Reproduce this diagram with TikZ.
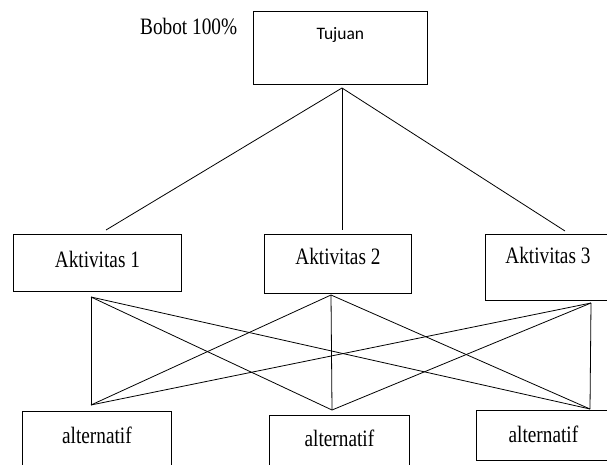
\documentclass[tikz,border=0pt]{standalone}
\usepackage{fontspec}
\setmainfont[FakeStretch=0.82]{Liberation Serif}
\newfontfamily\tujuanfont{Carlito}

\begin{document}
\begin{tikzpicture}
[x=1pt, y=1pt, every node/.style={inner sep=0pt},
 kotak/.style={draw=black, line width=0.8pt, anchor=north west, font=\fontsize{23.5}{28}\selectfont},
 garis/.style={line width=0.8pt, color=black}]
\useasboundingbox (0,0) rectangle (607,-465);
\node (bobot) [anchor=base west, font=\fontsize{23.5}{28}\selectfont] at (140,-35) {Bobot 100\%};
\node (tujuan) [kotak, minimum width=174pt, text height=28pt, text depth=45pt, font=\tujuanfont\fontsize{17.5}{21}\selectfont] at (253,-11) {Tujuan};
\node (akt1) [kotak, minimum width=168pt, text height=33pt, text depth=24pt] at (13,-234) {Aktivitas 1};
\node (akt2) [kotak, minimum width=147pt, text height=30pt, text depth=29pt] at (264,-234) {Aktivitas 2};
\node (akt3) [kotak, minimum width=125pt, text height=29pt, text depth=37pt] at (485,-234) {Aktivitas 3};
\node (alt1) [kotak, minimum width=149pt, text height=32pt, text depth=36pt] at (22,-411) {alternatif};
\node (alt2) [kotak, minimum width=140pt, text height=31pt, text depth=35pt] at (269,-415) {alternatif};
\node (alt3) [kotak, minimum width=134pt, text height=32pt, text depth=18pt] at (476,-410) {alternatif};
% titik sambung
\coordinate (puncak) at (342,-88);
\coordinate (akt1atas) at (106,-230);
\coordinate (akt2atas) at (342,-230);
\coordinate (akt3atas) at (565,-231);
\coordinate (akt1bawah) at (91,-297);
\coordinate (akt2bawah) at (331,-295);
\coordinate (akt3bawah) at (591,-303);
\coordinate (alt1atas) at (91,-405);
\coordinate (alt2atas) at (332,-410);
\coordinate (alt3atas) at (590,-409);
% tujuan ke aktivitas
\draw [garis] (puncak) -- (akt1atas);
\draw [garis] (puncak) -- (akt2atas);
\draw [garis] (puncak) -- (akt3atas);
% aktivitas ke alternatif
\draw [garis] (akt1bawah) -- (alt1atas);
\draw [garis] (akt1bawah) -- (alt2atas);
\draw [garis] (akt1bawah) -- (alt3atas);
\draw [garis] (akt2bawah) -- (alt1atas);
\draw [garis] (akt2bawah) -- (alt2atas);
\draw [garis] (akt2bawah) -- (alt3atas);
\draw [garis] (akt3bawah) -- (alt1atas);
\draw [garis] (akt3bawah) -- (alt2atas);
\draw [garis] (akt3bawah) -- (alt3atas);
\end{tikzpicture}
\end{document}
